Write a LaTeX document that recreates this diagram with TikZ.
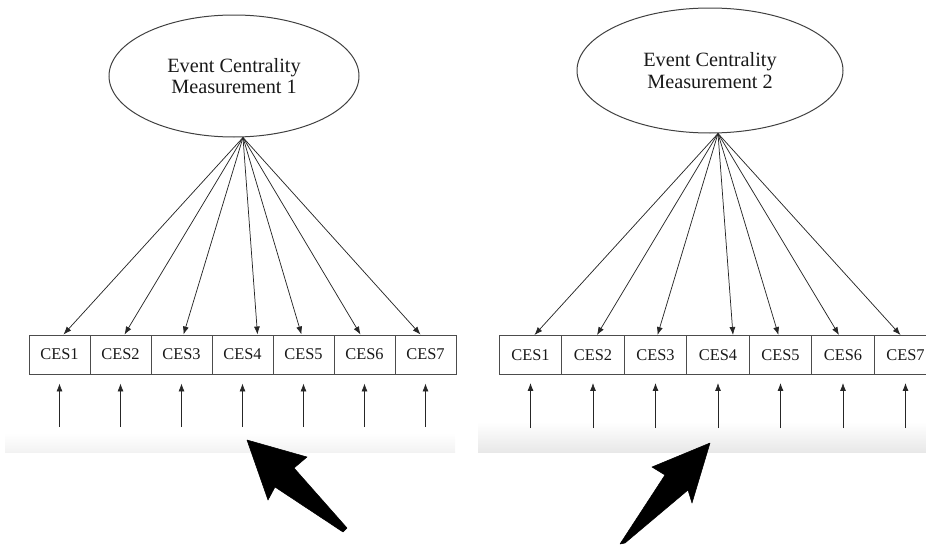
\documentclass[tikz,border=0pt]{standalone}
\usepackage{fontspec}
\setmainfont{Liberation Serif}
\usetikzlibrary{arrows.meta,shapes.geometric}
\tikzset{
  factor/.style={ellipse,draw=black!75,line width=0.75pt,align=center,inner sep=0pt,
                 font=\fontsize{15.2}{16}\selectfont,text=black!90},
  item/.style={draw=black!70,line width=0.7pt,inner sep=0pt,minimum height=29.25pt,
               font=\fontsize{12.3}{13}\selectfont,text=black!90},
  load/.style={-{Latex[length=6pt,width=4.5pt]},line width=0.55pt,draw=black!85},
  bigarrow/.style={fill=black,draw=black,line width=0.4pt,line join=round}
}
\begin{document}
\begin{tikzpicture}[x=0.75pt,y=-0.75pt]
\useasboundingbox (0,0) rectangle (926,546);
\clip (0,0) rectangle (926,546);

\shade [top color=white,bottom color=black!5] (5,433) rectangle (455,452);
\shade [top color=white,bottom color=black!9] (478,422) rectangle (926,452);

\node [factor,minimum width=187.5pt,minimum height=91.5pt] (e1) at (234,76)
      {Event Centrality\\Measurement 1};
\node [factor,minimum width=199.5pt,minimum height=93.75pt] (e2) at (710,70.5)
      {Event Centrality\\Measurement 2};
\coordinate (t1) at (243,137.5);
\coordinate (t2) at (718,133.5);

\foreach [count=\i, evaluate=\i as \xa using 59.5+61*(\i-1),
          evaluate=\i as \xb using 530.5+62.5*(\i-1)] \dx in {4,4,2,15,-2,-4,-5} {
     \node [item,minimum width=45.75pt] (c1-\i) at (\xa,354.5) {CES\i};
     \node [item,minimum width=46.9pt] (c2-\i) at (\xb,355) {CES\i};
     \coordinate (u1-\i) at (\xa,427);
     \coordinate (u2-\i) at (\xb,428);
     \draw [load] (t1) -- ([xshift=\dx*0.75pt]c1-\i.north);
     \draw [load] (t2) -- ([xshift=\dx*0.75pt]c2-\i.north);
     \draw [load,shorten >=6.75pt] (u1-\i) -- (c1-\i);
     \draw [load,shorten >=6pt] (u2-\i) -- (c2-\i);
   }

\fill [bigarrow] (247,440) -- (307,457) -- (294,468) -- (347,528) -- (343,532)
                 -- (275,487) -- (268,500) -- cycle;
\fill [bigarrow] (710,443) -- (692,503) -- (688,490) -- (625,543) -- (620,544)
                 -- (665,475) -- (652,467) -- cycle;
\end{tikzpicture}
\end{document}
